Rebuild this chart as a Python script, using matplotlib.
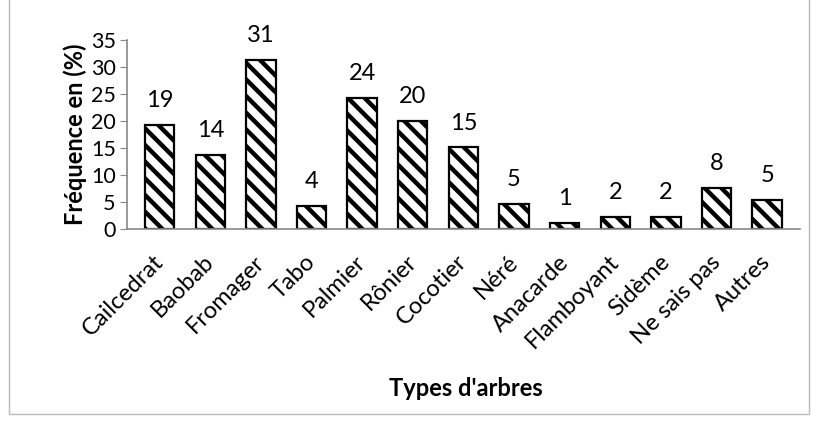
import matplotlib
matplotlib.use("Agg")
import matplotlib.pyplot as plt
import matplotlib.transforms as mtransforms
from matplotlib.patches import Rectangle
import numpy as np

plt.rcParams["font.family"] = ["Lato", "DejaVu Sans"]
plt.rcParams["hatch.linewidth"] = 3.2

categories = ["Cailcedrat", "Baobab", "Fromager", "Tabo", "Palmier", "Rônier",
              "Cocotier", "Néré", "Anacarde", "Flamboyant", "Sidème",
              "Ne sais pas", "Autres"]
values = [19.3, 13.7, 31.3, 4.3, 24.2, 20.0, 15.1, 4.6, 1.2, 2.3, 2.3, 7.6, 5.4]
labels = ["19", "14", "31", "4", "24", "20", "15", "5", "1", "2", "2", "8", "5"]
yticks = [0, 5, 10, 15, 20, 25, 30, 35]

fig = plt.figure(figsize=(8.18, 4.25), dpi=100)
ax = fig.add_axes([0.155, 0.461, 0.823, 0.445])

x = np.arange(len(categories))
bars = ax.bar(x, values, width=0.58, color="white", edgecolor="black",
              linewidth=1.6, hatch="\\\\")
for b, lab in zip(bars, labels):
    ax.annotate(lab, (b.get_x() + b.get_width() / 2, b.get_height()),
                xytext=(0, 10), textcoords="offset points",
                ha="center", va="bottom", fontsize=17)

ax.set_xlim(-0.65, len(categories) - 0.35)
ax.set_ylim(0, 35)
ax.set_yticks(yticks)
ax.set_xticks(x)
ax.set_xticklabels(categories, rotation=45, ha="right", rotation_mode="anchor",
                   fontsize=17)
ax.tick_params(axis="y", labelsize=15.5, color="#888888", length=5, pad=3)
ax.tick_params(axis="x", length=0, pad=16)
# nudge rotated labels a little to the left, as in the original
shift = mtransforms.ScaledTranslation(-5 / 72, 0, fig.dpi_scale_trans)
for t in ax.get_xticklabels():
    t.set_transform(t.get_transform() + shift)
for s in ("top", "right"):
    ax.spines[s].set_visible(False)
for s in ("left", "bottom"):
    ax.spines[s].set_color("#888888")
    ax.spines[s].set_linewidth(1.2)

ax.set_ylabel("Fréquence en (%)", fontsize=17, fontweight="bold", labelpad=3)
fig.text(0.57, 0.085, "Types d'arbres", ha="center", va="center",
         fontsize=17, fontweight="bold")

fig.patches.append(Rectangle((0.011, 0.025), 0.978, 0.98, transform=fig.transFigure,
                             fill=False, edgecolor="#bbbbbb", linewidth=1))

fig.savefig("out.png", dpi=100)
